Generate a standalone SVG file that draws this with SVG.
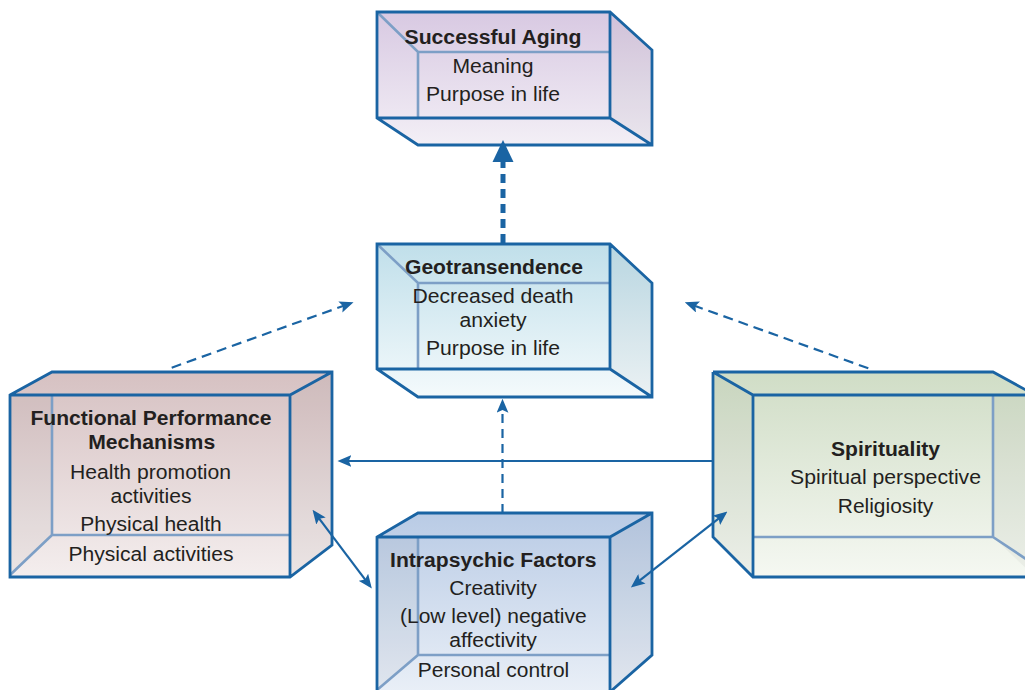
<svg xmlns="http://www.w3.org/2000/svg" width="1025" height="690" viewBox="0 0 1025 690">
<style>
.dk{fill:none;stroke:#1a64a3;stroke-width:2.8;stroke-linejoin:miter}
.lt{fill:none;stroke:#7d9fc6;stroke-width:2.6}
.side{fill:#000;fill-opacity:0.035;stroke:none}
text{font-family:"Liberation Sans",Arial,Helvetica,sans-serif;font-size:20px;fill:#231f20;text-anchor:middle}
.b{font-weight:bold}
.con{fill:none;stroke:#1a64a3;stroke-width:2.2}
.dash{stroke-dasharray:10 6}
.vdash{stroke-dasharray:9 6}
</style>
<defs>
<linearGradient id="gPurple" x1="0" y1="0" x2="0" y2="1"><stop offset="0" stop-color="#d8c9e2"/><stop offset="1" stop-color="#f3eff6"/></linearGradient>
<linearGradient id="gCyan" x1="0" y1="0" x2="0" y2="1"><stop offset="0" stop-color="#c0dfea"/><stop offset="1" stop-color="#f4fafc"/></linearGradient>
<linearGradient id="gPink" x1="0" y1="0" x2="0" y2="1"><stop offset="0" stop-color="#d6c1c2"/><stop offset="1" stop-color="#f4eeee"/></linearGradient>
<linearGradient id="gGreen" x1="0" y1="0" x2="0" y2="1"><stop offset="0" stop-color="#d0ddc6"/><stop offset="1" stop-color="#f5f8f2"/></linearGradient>
<linearGradient id="gBlue" x1="0" y1="0" x2="0" y2="1"><stop offset="0" stop-color="#b9cbe5"/><stop offset="1" stop-color="#e9eff7"/></linearGradient>
<marker id="ah" markerUnits="userSpaceOnUse" markerWidth="14" markerHeight="12" viewBox="0 0 13 11" refX="10" refY="5.5" orient="auto-start-reverse">
<path d="M0,0 L13,5.5 L0,11 L2.5,5.5 Z" fill="#1a64a3"/>
</marker>
</defs>

<g id="nodes">
<g id="node-successful-aging">
<path d="M377,12 L610,12 L652,50 L652,145 L418,145 L377,118 Z" fill="url(#gPurple)"/>
<path class="side" d="M610,12 L652,50 L652,145 L610,118 Z"/>
<path class="lt" d="M377,12 L418,52 L610,52 M418,52 L418,118"/>
<path class="dk" d="M377,12 L610,12 L652,50 L652,145 L418,145 L377,118 Z M610,12 L610,118 M377,118 L610,118 L652,145"/>
<text class="b" x="493" y="43.5" textLength="177" lengthAdjust="spacingAndGlyphs">Successful Aging</text>
<text x="493" y="73" textLength="81" lengthAdjust="spacingAndGlyphs">Meaning</text>
<text x="493" y="101" textLength="134" lengthAdjust="spacingAndGlyphs">Purpose in life</text>
</g>

<g id="node-geotransendence">
<path d="M377,244 L610,244 L652,283 L652,397 L418,397 L377,369 Z" fill="url(#gCyan)"/>
<path class="side" d="M610,244 L652,283 L652,397 L610,369 Z"/>
<path class="lt" d="M377,244 L418,283 L610,283 M418,283 L418,369"/>
<path class="dk" d="M377,244 L610,244 L652,283 L652,397 L418,397 L377,369 Z M610,244 L610,369 M377,369 L610,369 L652,397"/>
<text class="b" x="494" y="274" textLength="178" lengthAdjust="spacingAndGlyphs">Geotransendence</text>
<text x="493" y="303" textLength="161" lengthAdjust="spacingAndGlyphs">Decreased death</text>
<text x="493" y="326.5" textLength="67" lengthAdjust="spacingAndGlyphs">anxiety</text>
<text x="493" y="355" textLength="134" lengthAdjust="spacingAndGlyphs">Purpose in life</text>
</g>

<g id="node-functional-performance">
<path d="M10,395 L52,372 L332,372 L332,545 L290,577 L10,577 Z" fill="url(#gPink)"/>
<path class="side" d="M290,395 L332,372 L332,545 L290,577 Z"/>
<path class="side" d="M10,395 L52,395 L52,535 L10,577 Z"/>
<path class="lt" d="M52,395 L52,535 L290,535 M52,535 L10,575"/>
<path class="dk" d="M10,395 L52,372 L332,372 L332,545 L290,577 L10,577 Z M10,395 L290,395 L332,372 M290,395 L290,577"/>
<text class="b" x="151" y="425" textLength="241" lengthAdjust="spacingAndGlyphs">Functional Performance</text>
<text class="b" x="151.7" y="449" textLength="127" lengthAdjust="spacingAndGlyphs">Mechanisms</text>
<text x="150.5" y="479" textLength="161" lengthAdjust="spacingAndGlyphs">Health promotion</text>
<text x="151" y="502.5" textLength="81" lengthAdjust="spacingAndGlyphs">activities</text>
<text x="151" y="531" textLength="141.5" lengthAdjust="spacingAndGlyphs">Physical health</text>
<text x="151" y="561" textLength="165" lengthAdjust="spacingAndGlyphs">Physical activities</text>
</g>

<g id="node-spirituality">
<path d="M713,372 L993,372 L1035,395 L1035,577 L753,577 L713,537 Z" fill="url(#gGreen)"/>
<path class="side" d="M713,372 L753,395 L753,577 L713,537 Z"/>
<path class="side" d="M993,395 L1035,395 L1035,577 L993,537 Z"/>
<path class="lt" d="M993,395 L993,537 L753,537 M993,537 L1035,565"/>
<path class="dk" d="M713,372 L993,372 L1035,395 M1035,577 L753,577 L713,537 L713,372 M713,372 L753,395 L1035,395 M753,395 L753,577"/>
<text class="b" x="885.5" y="455.5" textLength="109" lengthAdjust="spacingAndGlyphs">Spirituality</text>
<text x="885.5" y="484" textLength="191" lengthAdjust="spacingAndGlyphs">Spiritual perspective</text>
<text x="885.5" y="513" textLength="95.5" lengthAdjust="spacingAndGlyphs">Religiosity</text>
</g>

<g id="node-intrapsychic">
<path d="M377,537 L418,513 L652,513 L652,655 L610,692 L377,692 Z" fill="url(#gBlue)"/>
<path class="side" d="M610,537 L652,513 L652,655 L610,692 Z"/>
<path class="side" d="M377,537 L418,537 L418,655 L377,690 Z"/>
<path class="lt" d="M418,537 L418,655 L610,655 M418,655 L377,690"/>
<path class="dk" d="M377,692 L377,537 L418,513 L652,513 L652,655 L610,692 M377,537 L610,537 L652,513 M610,537 L610,692"/>
<text class="b" x="493.3" y="566.5" textLength="206.5" lengthAdjust="spacingAndGlyphs">Intrapsychic Factors</text>
<text x="493" y="595" textLength="87.5" lengthAdjust="spacingAndGlyphs">Creativity</text>
<text x="493.3" y="623" textLength="186.5" lengthAdjust="spacingAndGlyphs">(Low level) negative</text>
<text x="493" y="646.5" textLength="87.5" lengthAdjust="spacingAndGlyphs">affectivity</text>
<text x="493.5" y="677" textLength="151.5" lengthAdjust="spacingAndGlyphs">Personal control</text>
</g>
</g>

<g id="connectors">
<path d="M503,243 L503,160" fill="none" stroke="#1a64a3" stroke-width="5" stroke-dasharray="9 6"/>
<path d="M503,140 L492.5,162 L513.5,162 Z" fill="#1a64a3"/>
<path class="con dash" d="M171.7,367.7 L350.5,303.3" marker-end="url(#ah)"/>
<path class="con dash" d="M868.3,368.3 L687.8,303.3" marker-end="url(#ah)"/>
<path class="con vdash" d="M502.5,513 L502.5,402" marker-end="url(#ah)"/>
<path class="con" d="M713,461 L340.7,461" marker-end="url(#ah)"/>
<path class="con" d="M314.5,512.4 L369.9,585.9" marker-start="url(#ah)" marker-end="url(#ah)"/>
<path class="con" d="M724.9,513.6 L633.4,585.4" marker-start="url(#ah)" marker-end="url(#ah)"/>
</g>
</svg>
